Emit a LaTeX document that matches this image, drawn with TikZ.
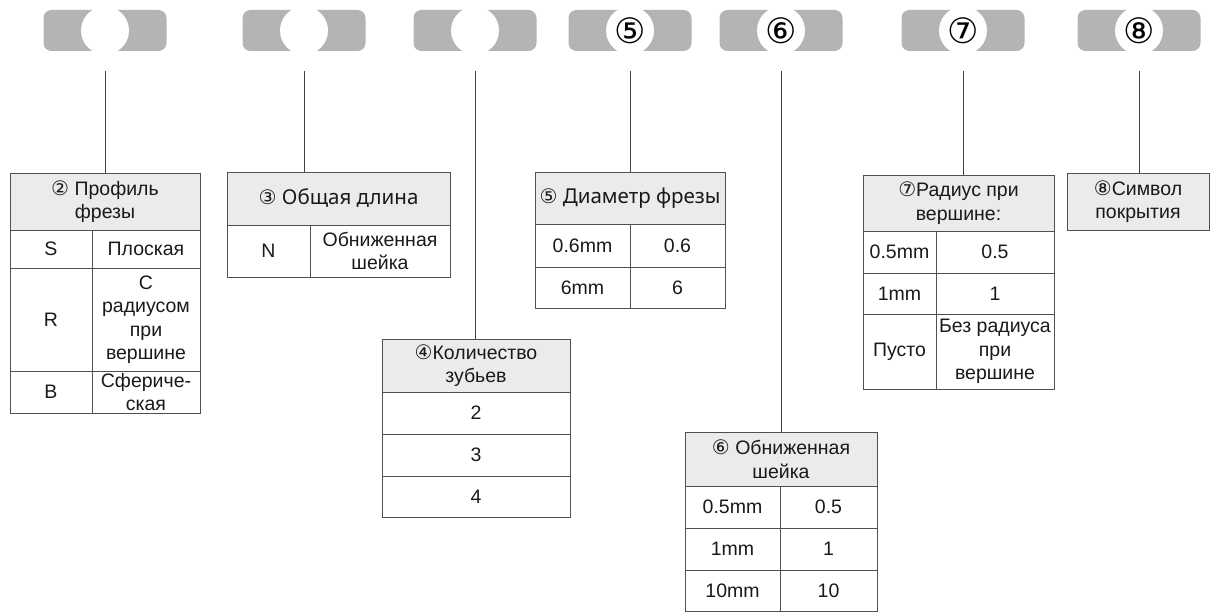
\documentclass[tikz,border=0pt]{standalone}
\usepackage{fontspec}
\setmainfont{Liberation Sans}
\newfontfamily\numfont{DejaVu Sans}
\newfontfamily\headfont{Noto Sans}
\usetikzlibrary{positioning}

\definecolor{pillgray}{HTML}{B3B4B6}
\definecolor{headgray}{HTML}{EBEBEB}
\definecolor{rulegray}{HTML}{505050}

\newcommand{\cnum}[1]{{\numfont\fontsize{20}{20}\selectfont #1}}
% one table cell from its corners
\newcommand{\cell}[7][cell]{%
  \node[#1, minimum width={#5-#3}, minimum height={#6-#4}] (#2) at ({(#3+#5)/2},{(#4+#6)/2}) {#7};}

\tikzset{
  pill/.style={fill=pillgray, rounded corners=8pt, minimum width=123, minimum height=41, inner sep=0},
  dot/.style={circle, fill=white, minimum size=48, inner sep=0, font=\numfont\fontsize{35}{35}\selectfont},
  link/.style={draw=black!75, line width=0.9pt},
  cell/.style={draw=rulegray, line width=0.9pt, inner sep=0, align=center, text=black!90,
    font=\fontsize{19.5}{23.5}\selectfont},
  head/.style={cell, fill=headgray},
}

\begin{document}
\begin{tikzpicture}[x=1pt,y=-1pt]
  \useasboundingbox (0,0) rectangle (1210,612);

  % code pills
  \foreach \i/\x/\t in {1/105/{},2/304/{},3/475/{},4/630/⑤,5/781/⑥,6/963/⑦,7/1139/⑧} {
    \node[pill] (pill\i) at (\x,30.5) {};
    \node[dot] (dot\i) at (pill\i) {\t};
    \coordinate (s\i) at ([yshift=-19.5pt]pill\i.south);
  }

  % 2 profile
  \cell[head]{prof-h}{10}{173}{200}{230}{\cnum{②} Профиль\\фрезы}
  \cell{prof-s}{10}{230}{92}{268}{S}
  \cell{prof-s2}{92}{230}{200}{268}{Плоская}
  \cell{prof-r}{10}{268}{92}{371}{R}
  \cell{prof-r2}{92}{268}{200}{371}{С\\радиусом\\при\\вершине}
  \cell{prof-b}{10}{371}{92}{413}{B}
  \cell{prof-b2}{92}{371}{200}{413}{Сфериче-\\ская}

  % 3 length
  \cell[head]{len-h}{227}{172}{450}{225}{\cnum{③} {\headfont\fontsize{20.5}{23}\selectfont Общая длина}}
  \cell{len-n}{227}{225}{310}{277}{N}
  \cell{len-n2}{310}{225}{450}{277}{Обниженная\\шейка}

  % 4 teeth
  \cell[head]{teeth-h}{382}{339}{570}{392}{\cnum{④}Количество\\зубьев}
  \cell{teeth-2}{382}{392}{570}{434}{2}
  \cell{teeth-3}{382}{434}{570}{476}{3}
  \cell{teeth-4}{382}{476}{570}{517}{4}

  % 5 diameter
  \cell[head]{diam-h}{535}{172}{725}{224}{\cnum{⑤} {\headfont\fontsize{20.5}{23}\selectfont Диаметр фрезы}}
  \cell{diam-a}{535}{224}{630}{267}{0.6mm}
  \cell{diam-a2}{630}{224}{725}{267}{0.6}
  \cell{diam-b}{535}{267}{630}{308}{6mm}
  \cell{diam-b2}{630}{267}{725}{308}{6}

  % 6 neck
  \cell[head]{neck-h}{685}{432}{877}{486}{\cnum{⑥} Обниженная\\шейка}
  \cell{neck-a}{685}{486}{780}{528}{0.5mm}
  \cell{neck-a2}{780}{486}{877}{528}{0.5}
  \cell{neck-b}{685}{528}{780}{570}{1mm}
  \cell{neck-b2}{780}{528}{877}{570}{1}
  \cell{neck-c}{685}{570}{780}{611}{10mm}
  \cell{neck-c2}{780}{570}{877}{611}{10}

  % 7 corner radius
  \cell[head]{rad-h}{863}{175}{1054}{231}{\cnum{⑦}Радиус при\\вершине:}
  \cell{rad-a}{863}{231}{936}{273}{0.5mm}
  \cell{rad-a2}{936}{231}{1054}{273}{0.5}
  \cell{rad-b}{863}{273}{936}{314}{1mm}
  \cell{rad-b2}{936}{273}{1054}{314}{1}
  \cell{rad-c}{863}{314}{936}{389}{Пусто}
  \cell{rad-c2}{936}{314}{1054}{389}{Без радиуса\\при\\вершине}

  % 8 coating
  \cell[head]{coat-h}{1067}{173}{1209}{230}{\cnum{⑧}Символ\\покрытия}

  % connectors
  \draw[link] (s1) -- (s1 |- prof-h.north);
  \draw[link] (s2) -- (s2 |- len-h.north);
  \draw[link] (s3) -- (s3 |- teeth-h.north);
  \draw[link] (s4) -- (s4 |- diam-h.north);
  \draw[link] (s5) -- (s5 |- neck-h.north);
  \draw[link] (s6) -- (s6 |- rad-h.north);
  \draw[link] (s7) -- (s7 |- coat-h.north);
\end{tikzpicture}
\end{document}
